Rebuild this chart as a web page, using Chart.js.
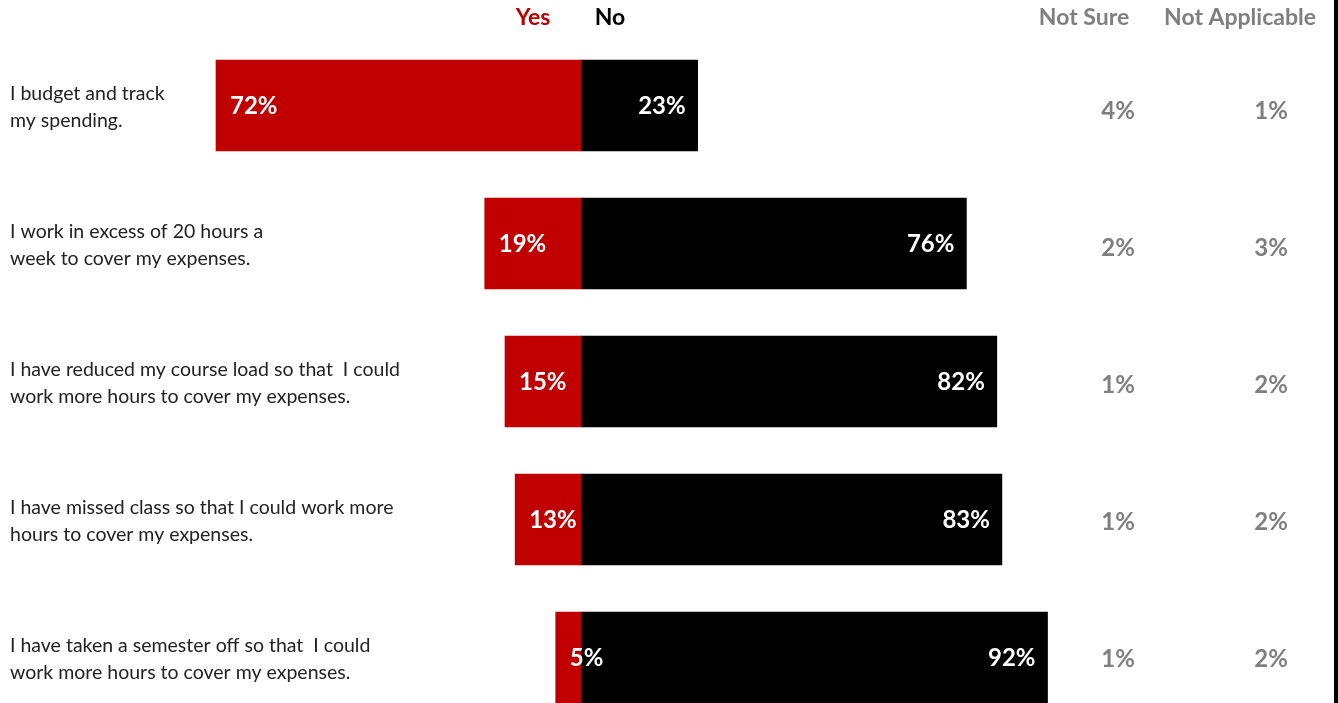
<!DOCTYPE html>
<html>
<head>
<meta charset="utf-8">
<script src="https://cdn.jsdelivr.net/npm/chart.js@4"></script>
<style>
  html, body { margin: 0; padding: 0; background: #fff; overflow: hidden; }
  #wrap { width: 1338px; height: 703px; box-sizing: border-box; border-right: 4px solid #000; }
</style>
</head>
<body>
<div id="wrap"><canvas id="chart"></canvas></div>
<script>
// Survey statements (two lines each, as in the original)
const categories = [
  ["I budget and track", "my spending."],
  ["I work in excess of 20 hours a", "week to cover my expenses."],
  ["I have reduced my course load so that  I could", "work more hours to cover my expenses."],
  ["I have missed class so that I could work more", "hours to cover my expenses."],
  ["I have taken a semester off so that  I could", "work more hours to cover my expenses."]
];
const yesValues = [72, 19, 15, 13, 5];
const noValues = [23, 76, 82, 83, 92];
const notSureValues = [4, 2, 1, 1, 1];
const notApplicableValues = [1, 3, 2, 2, 2];

const RED = "#C00000";
const GREY = "#7F7F7F";
const FONT = "Lato";

// draws statement text, value labels and column headers
const labelsPlugin = {
  id: "labelsPlugin",
  afterDatasetsDraw(chart) {
    const ctx = chart.ctx;
    const yScale = chart.scales.y;
    ctx.save();

    // headers
    ctx.textAlign = "center";
    ctx.textBaseline = "middle";
    ctx.font = "bold 23px " + FONT;
    ctx.fillStyle = RED;
    ctx.fillText("Yes", 533, 18);
    ctx.fillStyle = "#000";
    ctx.fillText("No", 610, 18);
    ctx.fillStyle = GREY;
    ctx.fillText("Not Sure", 1084, 18);
    ctx.fillText("Not Applicable", 1240, 18);

    categories.forEach((lines, i) => {
      const yc = yScale.getPixelForValue(i);

      // statement text
      ctx.textAlign = "left";
      ctx.textBaseline = "alphabetic";
      ctx.font = "19.5px " + FONT;
      ctx.fillStyle = "#222";
      ctx.fillText(lines[0], 10, yc - 5.5);
      ctx.fillText(lines[1], 10, yc + 21.5);

      // bar values
      ctx.textBaseline = "middle";
      ctx.font = "bold 24px " + FONT;
      ctx.fillStyle = "#fff";
      const yesBar = chart.getDatasetMeta(0).data[i];
      const noBar = chart.getDatasetMeta(1).data[i];
      ctx.textAlign = "left";
      ctx.fillText(yesValues[i] + "%", yesBar.x + 14, yc + 1);
      ctx.textAlign = "right";
      ctx.fillText(noValues[i] + "%", noBar.x - 12, yc + 1);

      // side columns (their own row grid, slightly tighter than the bars)
      const ys = 111 + i * 137;
      ctx.textAlign = "center";
      ctx.fillStyle = GREY;
      ctx.fillText(notSureValues[i] + "%", 1118, ys);
      ctx.fillText(notApplicableValues[i] + "%", 1271, ys);
    });
    ctx.restore();
  }
};

new Chart(document.getElementById("chart"), {
  type: "bar",
  data: {
    labels: categories.map(c => c.join(" ")),
    datasets: [
      {
        label: "Yes",
        data: yesValues.map(v => -v),
        backgroundColor: RED,
        barThickness: 91,
        clip: false
      },
      {
        label: "No",
        data: noValues,
        backgroundColor: "#000",
        barThickness: 91,
        clip: false
      }
    ]
  },
  options: {
    indexAxis: "y",
    responsive: true,
    maintainAspectRatio: false,
    animation: false,
    layout: { padding: { top: 105.5, bottom: 45.5, left: 0, right: 0 } },
    plugins: {
      legend: { display: false },
      tooltip: { enabled: false }
    },
    scales: {
      x: { display: false, stacked: true, min: -114.6, max: 148.5 },
      y: { display: false, stacked: true, offset: false }
    }
  },
  plugins: [labelsPlugin]
});
</script>
</body>
</html>
